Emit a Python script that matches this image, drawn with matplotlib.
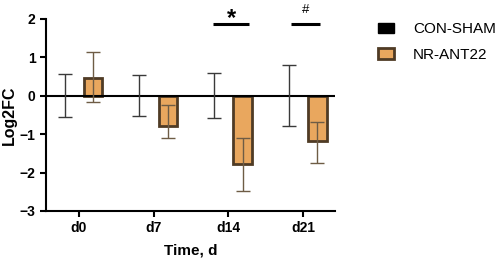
import numpy as np
import matplotlib.pyplot as plt
from matplotlib.patches import Patch

plt.rcParams['font.family'] = ['Liberation Sans', 'DejaVu Sans']

days = ['d0', 'd7', 'd14', 'd21']
con_mean = [0.0, 0.0, 0.0, 0.0]
con_err_lo = [0.56, 0.53, 0.58, 0.80]
con_err_hi = [0.57, 0.54, 0.58, 0.81]
nr_mean = [0.46, -0.78, -1.77, -1.18]
nr_err_lo = [0.63, 0.32, 0.72, 0.56]
nr_err_hi = [0.67, 0.55, 0.68, 0.49]
sig_marks = [('*', 2), ('#', 3)]

orange = '#E9A75E'
brown = '#4F3B25'

fig = plt.figure(figsize=(4.98, 2.63), dpi=100)
ax = fig.add_axes([0.0924, 0.198, 0.581, 0.730])

x = np.arange(len(days))
off = 0.19
w = 0.25
ax.bar(x - off, con_mean, w, color='black')
ax.errorbar(x - off, con_mean, yerr=[con_err_lo, con_err_hi], fmt='none',
            ecolor='#3a3a3a', elinewidth=1, capsize=5, capthick=1)
ax.bar(x + off, nr_mean, w, color=orange, edgecolor=brown, linewidth=2)
ax.errorbar(x + off, nr_mean, yerr=[nr_err_lo, nr_err_hi], fmt='none',
            ecolor='#6E5C45', elinewidth=1, capsize=5, capthick=1)

ax.axhline(0, color='black', linewidth=1.5, zorder=1)

for sym, i in sig_marks:
    half = 0.24 if sym == '*' else 0.19
    ax.plot([i + 0.03 - half, i + 0.03 + half], [1.86, 1.86], color='black',
            linewidth=2.2, clip_on=False, solid_capstyle='butt')
    if sym == '*':
        ax.text(i + 0.04, 2.0, sym, ha='center', va='center', fontsize=17,
                fontweight='bold', clip_on=False)
    else:
        ax.text(i + 0.03, 2.22, sym, ha='center', va='center', fontsize=9.5,
                clip_on=False)

ax.set_xlim(-0.44, 3.43)
ax.set_ylim(-3, 2)
ax.set_xticks(x)
ax.set_xticklabels(days)
ax.set_yticks([-3, -2, -1, 0, 1, 2])
ax.tick_params(axis='both', labelsize=10, width=1.5, length=4)
for lbl in ax.get_xticklabels() + ax.get_yticklabels():
    lbl.set_fontweight('bold')
ax.set_xlabel('Time, d', fontsize=11, fontweight='bold', labelpad=6)
ax.set_ylabel('Log2FC', fontsize=11.5, fontweight='bold', labelpad=2)

for s in ['top', 'right']:
    ax.spines[s].set_visible(False)
for s in ['left', 'bottom']:
    ax.spines[s].set_linewidth(1.5)

handles = [Patch(facecolor='black', edgecolor='black'),
           Patch(facecolor=orange, edgecolor=brown, linewidth=2)]
fig.legend(handles, ['CON-SHAM', 'NR-ANT22'], loc='upper left',
           bbox_to_anchor=(0.76, 0.915), frameon=False, fontsize=11,
           handlelength=1.0, handleheight=0.7, handletextpad=1.25,
           labelspacing=0.75, borderaxespad=0, borderpad=0)

fig.savefig('out.png', dpi=100)
